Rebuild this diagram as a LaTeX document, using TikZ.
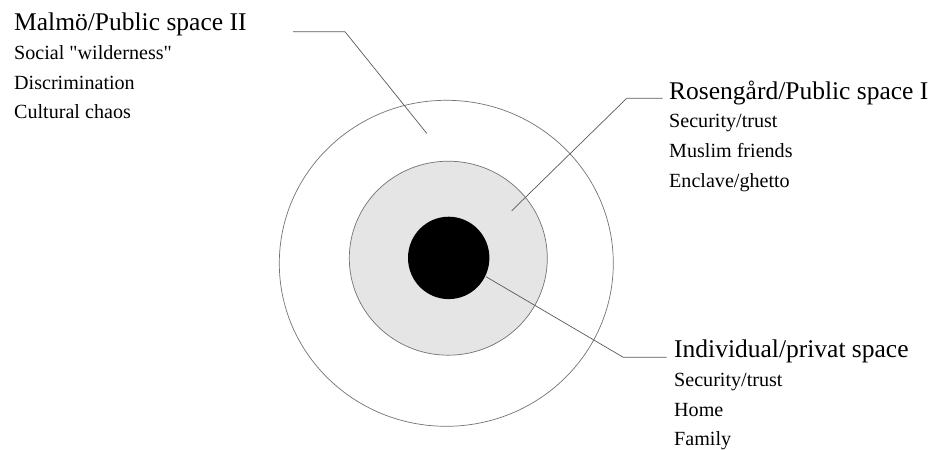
\documentclass[tikz,border=0pt]{standalone}
\usepackage{fontspec}
\setmainfont{Liberation Serif}[Ligatures=TeXOff]
\begin{document}
\begin{tikzpicture}[x=1pt,y=-1pt,
  ttl/.style={anchor=base west,inner sep=0pt,font=\fontsize{25.5}{28}\selectfont},
  itm/.style={anchor=base west,inner sep=0pt,font=\fontsize{20.1}{24}\selectfont},
  leader/.style={draw=black!65,line width=0.7pt},
  ring/.style={draw=black!55,line width=0.7pt}]
\useasboundingbox (0,0) rectangle (938,450);
% rings
\path[ring,fill=white] (446.3,263.3) ellipse [x radius=167pt, y radius=163pt];
\path[ring,fill=black!10] (448.3,258.2) ellipse [x radius=99pt, y radius=97pt];
\path[fill=black] (448.7,257.9) ellipse [x radius=40.7pt, y radius=41.2pt];
% texts
\node[ttl] (t1) at (14,30) {Malmö/Public space II};
\node[itm] (a1) at (14,59.5) {Social "wilderness"};
\node[itm] (b1) at (14,89) {Discrimination};
\node[itm] (c1) at (14,118.3) {Cultural chaos};
\node[ttl] (t2) at (669,99) {Rosengård/Public space I};
\node[itm] (a2) at (669,127.5) {Security/trust};
\node[itm] (b2) at (669,157) {Muslim friends};
\node[itm] (c2) at (669,187) {Enclave/ghetto};
\node[ttl] (t3) at (674,357.7) {Individual/privat space};
\node[itm] (a3) at (674,386) {Security/trust};
\node[itm] (b3) at (674,416) {Home};
\node[itm] (c3) at (674,445) {Family};
% leader coordinates
\coordinate (s1) at (293,31.7);
\coordinate (k1) at (345,31.7);
\coordinate (e1) at (426.7,133.3);
\coordinate (s2) at (662.7,98.3);
\coordinate (k2) at (626.7,98.3);
\coordinate (e2) at (511.7,210.8);
\coordinate (s3) at (666.7,357.3);
\coordinate (k3) at (623.3,357.3);
\coordinate (e3) at (486,276.7);
\draw[leader] (s1) -- (k1) -- (e1);
\draw[leader] (s2) -- (k2) -- (e2);
\draw[leader] (s3) -- (k3) -- (e3);
\end{tikzpicture}
\end{document}
